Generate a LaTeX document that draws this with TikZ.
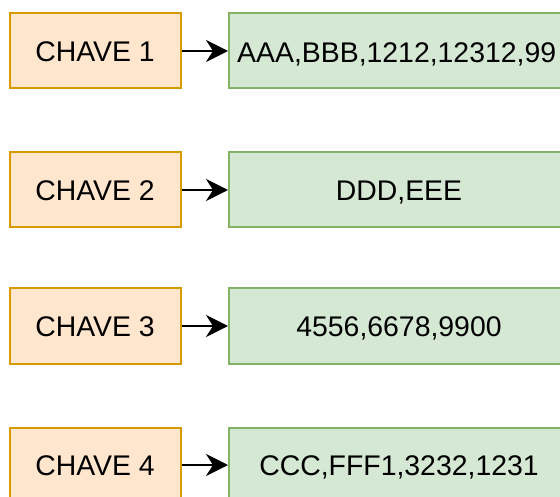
\documentclass[tikz,border=0pt]{standalone}
\usepackage{fontspec}
\setmainfont{Liberation Sans}
\usetikzlibrary{arrows.meta}
\definecolor{keyfill}{HTML}{FFE6CC}
\definecolor{keydraw}{HTML}{D79B00}
\definecolor{valfill}{HTML}{D5E8D4}
\definecolor{valdraw}{HTML}{82B366}
\tikzset{
  keybox/.style={draw=keydraw, fill=keyfill, line width=2pt, minimum width=171pt, minimum height=75pt, inner sep=0pt, font=\fontsize{28.4}{30}\selectfont, text height=20.5pt, text depth=0pt},
  valbox/.style={draw=valdraw, fill=valfill, line width=2pt, minimum width=340pt, minimum height=75pt, inner sep=0pt, font=\fontsize{28.4}{30}\selectfont, text height=20.5pt, text depth=0pt},
  valtext/.style={inner sep=0pt, font=\fontsize{28.4}{30}\selectfont, text height=20.5pt, text depth=0pt},
  link/.style={line width=2pt, -{Stealth[length=22pt, width=22pt, inset=7pt]}}
}
\begin{document}
\begin{tikzpicture}[x=1pt, y=-1pt]
\useasboundingbox (0,0) rectangle (560,497);
\clip (0,0) rectangle (560,497);
\node[keybox] (k1) at (95,51) {CHAVE 1};
\node[valbox] (v1) at (399,51) {};
\node[valtext, anchor=west] (t1) at (237,52) {AAA,BBB,1212,12312,99};
\node[keybox] (k2) at (95,190) {CHAVE 2};
\node[valbox] (v2) at (399,190) {DDD,EEE};
\node[keybox] (k3) at (95,326) {CHAVE 3};
\node[valbox] (v3) at (399,326) {4556,6678,9900};
\node[keybox] (k4) at (95,465) {CHAVE 4};
\node[valbox] (v4) at (399,465) {CCC,FFF1,3232,1231};
\draw[link] (k1) -- (v1);
\draw[link] (k2) -- (v2);
\draw[link] (k3) -- (v3);
\draw[link] (k4) -- (v4);
\end{tikzpicture}
\end{document}
